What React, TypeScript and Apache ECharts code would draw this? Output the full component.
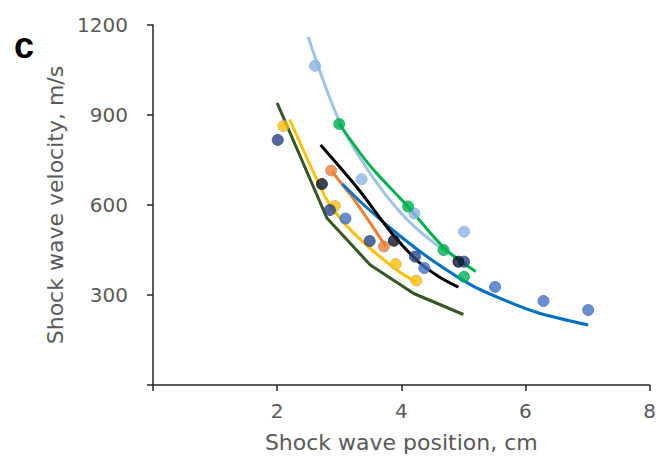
import React, { useEffect, useRef } from "react";
import * as echarts from "echarts";

// ---- data ----
const xTickLabels = [2, 4, 6, 8];
const yTickLabels = [300, 600, 900, 1200];

// fitted curves
const lightBlueLine = [[2.5, 1160], [3.0, 880], [3.5, 705], [4.0, 572], [4.5, 478], [5.05, 402]];
const greenLine = [[3.0, 870], [3.5, 730], [4.1, 596], [4.7, 455], [5.2, 378]];
const darkGreenLine = [[2.0, 940], [2.8, 557], [3.5, 400], [4.2, 305], [5.0, 235]];
const yellowLine = [[2.2, 885], [2.8, 617], [3.1, 535], [3.5, 455], [3.95, 380], [4.22, 345]];
const blackLine = [[2.7, 800], [3.3, 655], [3.85, 505], [4.28, 410], [4.6, 362], [4.92, 326]];
const orangeLine = [[2.88, 712], [3.26, 612], [3.75, 462]];
const blueLine = [[3.05, 670], [3.45, 590], [3.96, 500], [4.49, 417], [5.13, 333], [5.66, 283], [6.2, 241], [7.01, 200]];

// measured points
const lightBluePts = [[2.61, 1064], [3.36, 686], [4.21, 572], [5.01, 511]];
const greenPts = [[3.0, 870], [4.11, 595], [4.68, 450], [5.01, 361]];
const yellowPts = [[2.1, 863], [2.93, 597], [3.91, 403], [4.24, 348]];
const orangePts = [[2.87, 715], [3.72, 462]];
const blackPts = [[2.72, 670], [3.88, 481], [4.92, 411]];
const navyPts = [[2.01, 817], [2.85, 583], [3.49, 480], [4.22, 428], [5.01, 411]];
const bluePts = [[3.1, 555], [4.37, 390], [5.51, 327], [6.29, 280], [7.01, 250]];

const lineDefs = [
  { data: darkGreenLine, color: "#375623", smooth: false },
  { data: yellowLine, color: "#ffc000", smooth: 0.2 },
  { data: orangeLine, color: "#ed7d31", smooth: 0.2 },
  { data: blueLine, color: "#0070c0", smooth: 0.3 },
  { data: blackLine, color: "#000000", smooth: 0.3 },
  { data: lightBlueLine, color: "#9dc3e6", smooth: 0.3 },
  { data: greenLine, color: "#00b050", smooth: 0.3 },
];

const pointDefs = [
  { data: lightBluePts, color: "#8db4e2", border: "#8db4e2" },
  { data: greenPts, color: "#00b050", border: "#00b050" },
  { data: yellowPts, color: "#ffc000", border: "#c9b27a" },
  { data: orangePts, color: "#ed7d31", border: "#a89a8a" },
  { data: bluePts, color: "#4472c4", border: "#4472c4" },
  { data: navyPts, color: "#2b4583", border: "#2b4583" },
  { data: blackPts, color: "#0c1628", border: "#0c1628" },
];

export default function App() {
  const ref = useRef<HTMLDivElement>(null);
  useEffect(() => {
    if (!ref.current) return;
    const chart = echarts.init(ref.current, null, { renderer: "svg" });
    const font = "'DejaVu Sans', sans-serif";
    const series: any[] = [];
    lineDefs.forEach((l) => {
      series.push({
        type: "line",
        data: l.data,
        showSymbol: false,
        smooth: l.smooth,
        lineStyle: { color: l.color, width: 3 },
        itemStyle: { color: l.color },
        z: 2,
      });
    });
    pointDefs.forEach((p) => {
      series.push({
        type: "scatter",
        data: p.data,
        symbolSize: 11,
        itemStyle: { color: p.color, borderColor: p.border, borderWidth: 1 },
        z: 3,
      });
    });
    chart.setOption({
      animation: false,
      backgroundColor: "#ffffff",
      grid: { left: 153, right: 7, top: 25, bottom: 81, containLabel: false },
      xAxis: {
        type: "value",
        min: 0,
        max: 8,
        interval: 2,
        name: "Shock wave position, cm",
        nameLocation: "middle",
        nameGap: 46,
        nameTextStyle: { color: "#595959", fontSize: 22, fontFamily: font },
        axisLine: { show: true, onZero: false, lineStyle: { color: "#262626", width: 1.5 } },
        axisTick: { show: true, length: 6, lineStyle: { color: "#262626", width: 1.5 } },
        axisLabel: {
          color: "#595959",
          fontSize: 20,
          fontFamily: font,
          margin: 16,
          formatter: (v: number) => (xTickLabels.includes(v) ? String(v) : ""),
        },
        splitLine: { show: false },
      },
      yAxis: {
        type: "value",
        min: 0,
        max: 1200,
        interval: 300,
        name: "Shock wave velocity, m/s",
        nameLocation: "middle",
        nameGap: 84,
        nameTextStyle: { color: "#595959", fontSize: 22, fontFamily: font },
        axisLine: { show: true, onZero: false, lineStyle: { color: "#262626", width: 1.5 } },
        axisTick: { show: true, length: 6, lineStyle: { color: "#262626", width: 1.5 } },
        axisLabel: {
          color: "#595959",
          fontSize: 20,
          fontFamily: font,
          margin: 25,
          formatter: (v: number) => (yTickLabels.includes(v) ? String(v) : ""),
        },
        splitLine: { show: false },
      },
      graphic: [
        {
          type: "text",
          left: 14,
          top: 27,
          style: {
            text: "c",
            fill: "#000000",
            font: "bold 36px 'Liberation Sans', Arial, sans-serif",
          },
        },
      ],
      series,
    });
    return () => chart.dispose();
  }, []);
  return <div ref={ref} style={{ width: 659, height: 466, position: "absolute", left: 0, top: 0 }} />;
}
